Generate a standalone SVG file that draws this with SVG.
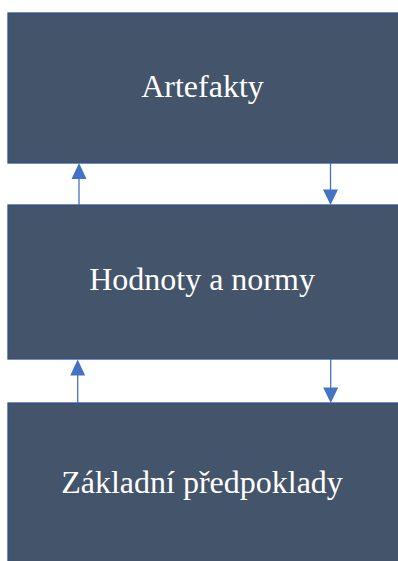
<svg xmlns="http://www.w3.org/2000/svg" width="398" height="561" viewBox="0 0 398 561">
  <style>
    .box { fill: #44546A; stroke: #2F528F; stroke-width: 1.3; }
    .label { fill: #FFFFFF; font-family: "Liberation Serif", "Times New Roman", serif; font-size: 32px; text-anchor: middle; }
    .conn { stroke: #4472C4; stroke-width: 1.3; fill: none; }
    .head { fill: #4472C4; }
  </style>
  <rect width="398" height="561" fill="#FFFFFF"/>

  <g id="artefakty">
    <rect class="box" x="8" y="13" width="395" height="150"/>
    <text class="label" x="202.5" y="97">Artefakty</text>
  </g>

  <g id="hodnoty">
    <rect class="box" x="8" y="205" width="395" height="154"/>
    <text class="label" x="202" y="290">Hodnoty a normy</text>
  </g>

  <g id="predpoklady">
    <rect class="box" x="8" y="403" width="395" height="170"/>
    <text class="label" x="202" y="493">Základní předpoklady</text>
  </g>

  <g id="connectors">
    <!-- between Artefakty and Hodnoty a normy -->
    <line class="conn" x1="79" y1="205" x2="79" y2="176"/>
    <polygon class="head" points="79,163 71.5,179 86.5,179"/>
    <line class="conn" x1="330.5" y1="163" x2="330.5" y2="192"/>
    <polygon class="head" points="330.5,205 323,189.5 338,189.5"/>

    <!-- between Hodnoty a normy and Základní předpoklady -->
    <line class="conn" x1="77.7" y1="403" x2="77.7" y2="374"/>
    <polygon class="head" points="77.7,359.5 70.2,375.5 85.2,375.5"/>
    <line class="conn" x1="330.7" y1="359" x2="330.7" y2="390"/>
    <polygon class="head" points="330.7,403 323.2,387.5 338.2,387.5"/>
  </g>
</svg>
